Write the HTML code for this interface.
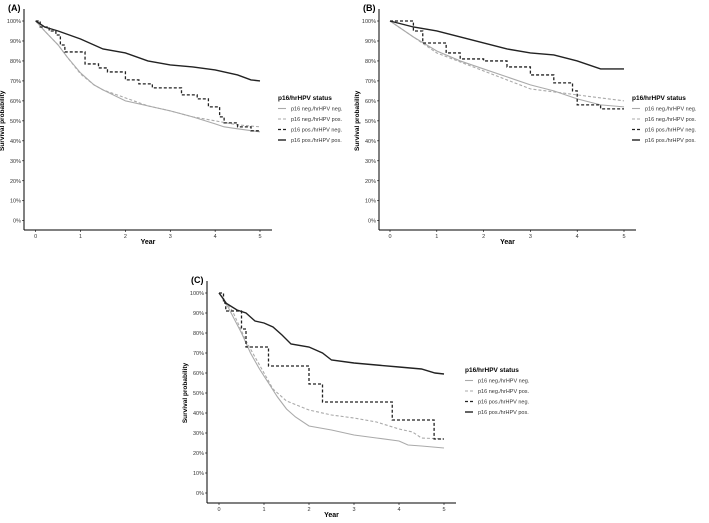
<!DOCTYPE html>
<html><head><meta charset="utf-8"><style>
body{margin:0;background:#fff;width:709px;height:518px;overflow:hidden}
svg{font-family:"Liberation Sans",sans-serif}
</style></head><body>
<svg id="s" width="709" height="518"></svg>
<script>
const seriesNames=["p16 neg./hrHPV neg.","p16 neg./hrHPV pos.","p16 pos./hrHPV neg.","p16 pos./hrHPV pos."];
const yTicks=[0,10,20,30,40,50,60,70,80,90,100];
const xTicks=[0,1,2,3,4,5];
// Panel A
const aNegNegX=[0,0.2,0.5,0.7,1,1.3,1.5,2,2.5,3,3.5,4,4.2,4.5,5];
const aNegNegY=[100,95,88,82,74,68,65.5,60,57.5,55,52,48.5,47,46,44.5];
const aNegPosX=[0,0.2,0.5,0.7,1,1.3,1.5,2,2.5,3,3.5,4,4.5,5];
const aNegPosY=[100,95,88,82,73.5,68,65.5,61.5,57.5,55,52,50,48,47];
const aPosNegX=[0,0.1,0.3,0.45,0.55,0.65,1.1,1.4,1.6,2.0,2.3,2.6,3.25,3.6,3.85,4.1,4.2,4.5,4.8,5];
const aPosNegY=[100,97,95,93,88,84.5,78.5,76.5,74.5,70.5,68.5,66.5,63,61,57,52,49,47,45,45];
const aPosPosX=[0,0.2,0.5,1,1.5,2,2.5,3,3.5,4,4.5,4.8,5];
const aPosPosY=[100,97,95,91,86,84,80,78,77,75.5,73,70.5,70];
// Panel B
const bNegNegX=[0,0.5,1,1.5,2,2.5,3,3.5,4,4.5,5];
const bNegNegY=[100,92,85,80,76,72,68,65,61,58,57];
const bNegPosX=[0,0.5,1,2,3,4,5];
const bNegPosY=[100,92,84,75,66,63,60];
const bPosNegX=[0,0.5,0.7,1.2,1.5,2,2.5,3,3.5,3.9,4,4.5,5];
const bPosNegY=[100,95,89,84,81,80,77,73,69,65,58,56,56];
const bPosPosX=[0,0.5,1,1.5,2,2.5,3,3.5,4,4.5,5];
const bPosPosY=[100,97,95,92,89,86,84,83,80,76,76];
// Panel C
const cNegNegX=[0,0.2,0.5,0.7,0.9,1.1,1.3,1.5,1.7,2,2.5,3,3.5,4,4.2,4.5,5];
const cNegNegY=[100,93,80,70,62,55,48,42,38,33.5,31.5,29,27.5,26,24,23.5,22.5];
const cNegPosX=[0,0.3,0.6,0.9,1.2,1.5,2,2.5,3,3.5,4,4.3,4.5,5];
const cNegPosY=[100,91,76,64,52,46,41.5,39,37.5,35.5,32,30.5,27.5,27];
const cPosNegX=[0,0.1,0.15,0.5,0.6,1.1,2,2.3,3.85,4.78,5];
const cPosNegY=[100,95,91,82,73,63.5,54.5,45.5,36.5,27,27];
const cPosPosX=[0,0.1,0.15,0.4,0.6,0.8,1,1.2,1.4,1.6,2,2.3,2.5,3,4,4.5,4.8,5];
const cPosPosY=[100,97,95,91.5,90,86,85,83,79,74.5,73,70,66.5,65,63,62,60,59.5];

const NS="http://www.w3.org/2000/svg",S=document.getElementById('s');
function el(t,a,p){const e=document.createElementNS(NS,t);for(const k in a)e.setAttribute(k,a[k]);(p||S).appendChild(e);return e;}
const styles=[{stroke:"#aaa",dash:"",w:1.1,step:false},{stroke:"#aaa",dash:"3,2",w:1.1,step:false},{stroke:"#222",dash:"3,2",w:1.3,step:true},{stroke:"#222",dash:"",w:1.4,step:false}];
function panel(id,label,ax,x0,x5,y100,y0,axB,lx,ly,data){
  const g=el('g',{});
  
  
  const X=v=>x0+(x5-x0)*v/5, Y=v=>y0+(y100-y0)*v/100;
  const t=el('text',{x:ax-16,y:y100-10,'font-size':9,'font-weight':'bold'},g);t.textContent=label;
  
  const axisL=el('line',{x1:ax,y1:y100-12,x2:ax,y2:axB,stroke:'#000','stroke-width':1},g);
  
  const axisB=el('line',{x1:ax,y1:axB,x2:x5+12,y2:axB,stroke:'#000','stroke-width':1},g);
  
  yTicks.forEach(v=>{el('line',{x1:ax-2,x2:ax,y1:Y(v),y2:Y(v),stroke:'#000','stroke-width':.6},g);
    const tt=el('text',{x:ax-3,y:Y(v)+2,'font-size':5.5,'text-anchor':'end',fill:'#333'},g);tt.textContent=v+'%';
    });
  xTicks.forEach(v=>{el('line',{x1:X(v),x2:X(v),y1:axB,y2:axB+2,stroke:'#000','stroke-width':.6},g);
    const tt=el('text',{x:X(v),y:axB+8,'font-size':5.5,'text-anchor':'middle',fill:'#333'},g);tt.textContent=v;
    });
  const xt=el('text',{x:(ax+x5+12)/2,y:axB+14,'font-size':7,'font-weight':'bold','text-anchor':'middle'},g);xt.textContent='Year';
  
  const yc=(y100+y0)/2;
  const yt=el('text',{x:ax-20,y:yc,'font-size':6.5,'font-weight':'bold','text-anchor':'middle',transform:`rotate(-90 ${ax-20} ${yc})`},g);yt.textContent='Survival probability';
  
  data.forEach((d,i)=>{const xs=d[0],ys=d[1];const s=styles[i];let p='M'+X(xs[0])+','+Y(ys[0]);
    for(let k=1;k<xs.length;k++)p+=s.step?(' H'+X(xs[k])+' V'+Y(ys[k])):(' L'+X(xs[k])+','+Y(ys[k]));
    const pa=el('path',{d:p,fill:'none',stroke:s.stroke,'stroke-width':s.w,'stroke-dasharray':s.dash},g);
    
    });
  const lt=el('text',{x:lx,y:ly,'font-size':6.5,'font-weight':'bold'},g);lt.textContent='p16/hrHPV status';
  
  seriesNames.forEach((n,i)=>{const yy=ly+10.5*(i+1);const s=styles[i];
    el('line',{x1:lx,x2:lx+8,y1:yy-2,y2:yy-2,stroke:s.stroke,'stroke-width':s.w,'stroke-dasharray':s.dash},g);
    const tt=el('text',{x:lx+13,y:yy,'font-size':5.5,fill:'#333'},g);tt.textContent=n;
    });
}
panel('a','(A)',24,35.7,260,21,220.7,230,278,100,[[aNegNegX,aNegNegY],[aNegPosX,aNegPosY],[aPosNegX,aPosNegY],[aPosPosX,aPosPosY]]);
panel('b','(B)',379,390,624,21,220.7,230,632,100,[[bNegNegX,bNegNegY],[bNegPosX,bNegPosY],[bPosNegX,bPosNegY],[bPosPosX,bPosPosY]]);
panel('c','(C)',207,219,444,293,493,503,465,372,[[cNegNegX,cNegNegY],[cNegPosX,cNegPosY],[cPosNegX,cPosNegY],[cPosPosX,cPosPosY]]);
</script></body></html>
